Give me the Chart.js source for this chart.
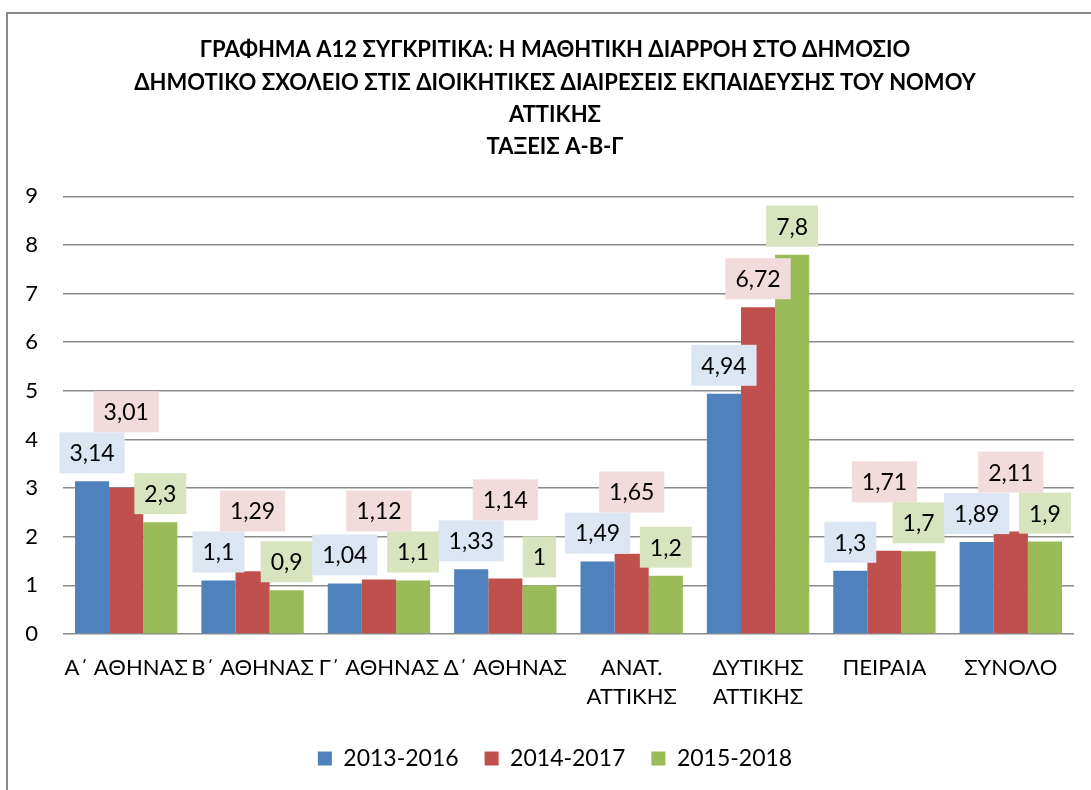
<!DOCTYPE html>
<html><head><meta charset="utf-8">
<script src="https://cdn.jsdelivr.net/npm/chart.js@4.4.0/dist/chart.umd.min.js"></script>
<style>html,body{margin:0;padding:0;background:#fff}#wrap{width:1091px;height:790px;position:relative}</style>
</head><body><div id="wrap"><canvas id="c" width="1091" height="790"></canvas></div>
<script>
// ---- data ----
const categories = [["Α΄ ΑΘΗΝΑΣ"], ["Β΄ ΑΘΗΝΑΣ"], ["Γ΄ ΑΘΗΝΑΣ"], ["Δ΄ ΑΘΗΝΑΣ"], ["ΑΝΑΤ.", "ΑΤΤΙΚΗΣ"], ["ΔΥΤΙΚΗΣ", "ΑΤΤΙΚΗΣ"], ["ΠΕΙΡΑΙΑ"], ["ΣΥΝΟΛΟ"]];
const seriesNames = ["2013-2016", "2014-2017", "2015-2018"];
const values2013 = [3.14, 1.1, 1.04, 1.33, 1.49, 4.94, 1.3, 1.89];
const values2014 = [3.01, 1.29, 1.12, 1.14, 1.65, 6.72, 1.71, 2.11];
const values2015 = [2.3, 0.9, 1.1, 1, 1.2, 7.8, 1.7, 1.9];
const yTicks = [0, 1, 2, 3, 4, 5, 6, 7, 8, 9];
const titleLines = [
  "ΓΡΑΦΗΜΑ Α12 ΣΥΓΚΡΙΤΙΚΑ: Η ΜΑΘΗΤΙΚΗ ΔΙΑΡΡΟΗ ΣΤΟ ΔΗΜΟΣΙΟ",
  "ΔΗΜΟΤΙΚΟ ΣΧΟΛΕΙΟ ΣΤΙΣ ΔΙΟΙΚΗΤΙΚΕΣ ΔΙΑΙΡΕΣΕΙΣ ΕΚΠΑΙΔΕΥΣΗΣ ΤΟΥ ΝΟΜΟΥ",
  "ΑΤΤΙΚΗΣ",
  "ΤΑΞΕΙΣ Α-Β-Γ"
];

// ---- styles ----
const FONT = "Lato, 'Open Sans', 'DejaVu Sans', sans-serif";
const barColors = ["#4F81BD", "#C0504D", "#9BBB59"];
const labelBg = ["#DCE6F2", "#F2DCDB", "#D7E4BD"];
const fmt = v => String(v).replace('.', ',');

const frame = {
  id: 'frame',
  beforeDraw(chart) {
    const c = chart.ctx;
    c.save();
    c.fillStyle = '#fff';
    c.fillRect(0, 0, chart.width, chart.height);
    c.strokeStyle = '#8a8a8a';
    c.lineWidth = 2;
    c.strokeRect(7, 13, 1200, 900);
    c.restore();
  }
};

const dataLabels = {
  id: 'dataLabels',
  afterDatasetsDraw(chart) {
    const c = chart.ctx;
    c.save();
    c.font = "23px " + FONT;
    const padX = 10, h = 41, gap = 8;
    const n = chart.data.labels.length;
    for (let i = 0; i < n; i++) {
      const boxes = [];
      for (const d of [0, 2, 1]) {
        const el = chart.getDatasetMeta(d).data[i];
        const v = chart.data.datasets[d].data[i];
        const t = fmt(v);
        const w = c.measureText(t).width + 2 * padX;
        const x0 = el.x - w / 2;
        let bottom = el.y - gap;
        for (let k = 0; k < 10; k++) {
          const conf = boxes.filter(b => Math.min(b.x + b.w, x0 + w) - Math.max(b.x, x0) > 1 &&
            Math.min(b.y + b.h, bottom) - Math.max(b.y, bottom - h) > 1);
          if (!conf.length) break;
          bottom = Math.min(...conf.map(b => b.y));
        }
        boxes.push({x: x0, y: bottom - h, w, h, t, d});
      }
      boxes.sort((a, b) => a.d - b.d);
      for (const b of boxes) {
        c.fillStyle = labelBg[b.d];
        c.fillRect(b.x, b.y, b.w, b.h);
        c.fillStyle = '#000';
        c.textAlign = 'center';
        c.textBaseline = 'middle';
        c.fillText(b.t, b.x + b.w / 2, b.y + b.h / 2 + 1);
      }
    }
    c.restore();
  }
};

new Chart(document.getElementById('c'), {
  type: 'bar',
  data: {
    labels: categories,
    datasets: [
      {label: seriesNames[0], data: values2013, backgroundColor: barColors[0]},
      {label: seriesNames[1], data: values2014, backgroundColor: barColors[1]},
      {label: seriesNames[2], data: values2015, backgroundColor: barColors[2]}
    ]
  },
  options: {
    responsive: false,
    animation: false,
    devicePixelRatio: 1,
    datasets: {bar: {categoryPercentage: 0.81, barPercentage: 1.0, borderWidth: 0}},
    layout: {padding: {left: 24, right: 5, top: 12, bottom: 10}},
    scales: {
      x: {
        grid: {display: false},
        border: {display: false},
        ticks: {font: {family: FONT, size: 22, lineHeight: 1.3}, color: '#000', padding: 12, maxRotation: 0, autoSkip: false},
        afterFit(s) { s.height = 87; }
      },
      y: {
        min: 0, max: 9,
        afterBuildTicks(s) { s.ticks = yTicks.map(v => ({value: v})); },
        grid: {color: '#8b8b8b', lineWidth: 1.5, drawTicks: false},
        border: {display: false},
        ticks: {font: {family: FONT, size: 22}, color: '#000', padding: 25},
        afterFit(s) { s.width = 39; }
      },
      yRight: {
        position: 'right',
        min: 0, max: 9,
        grid: {display: false, drawTicks: false},
        border: {display: false},
        ticks: {display: false},
        afterFit(s) { s.width = 12; }
      }
    },
    plugins: {
      title: {
        display: true,
        text: titleLines,
        color: '#000',
        font: {family: FONT, size: 22, weight: 'bold', lineHeight: 1.47},
        padding: {top: 22, bottom: 33}
      },
      legend: {
        position: 'bottom',
        labels: {boxWidth: 14, boxHeight: 14, color: '#000', font: {family: FONT, size: 23}, padding: 26}
      },
      tooltip: {enabled: false}
    }
  },
  plugins: [frame, dataLabels]
});
</script>
</body></html>
